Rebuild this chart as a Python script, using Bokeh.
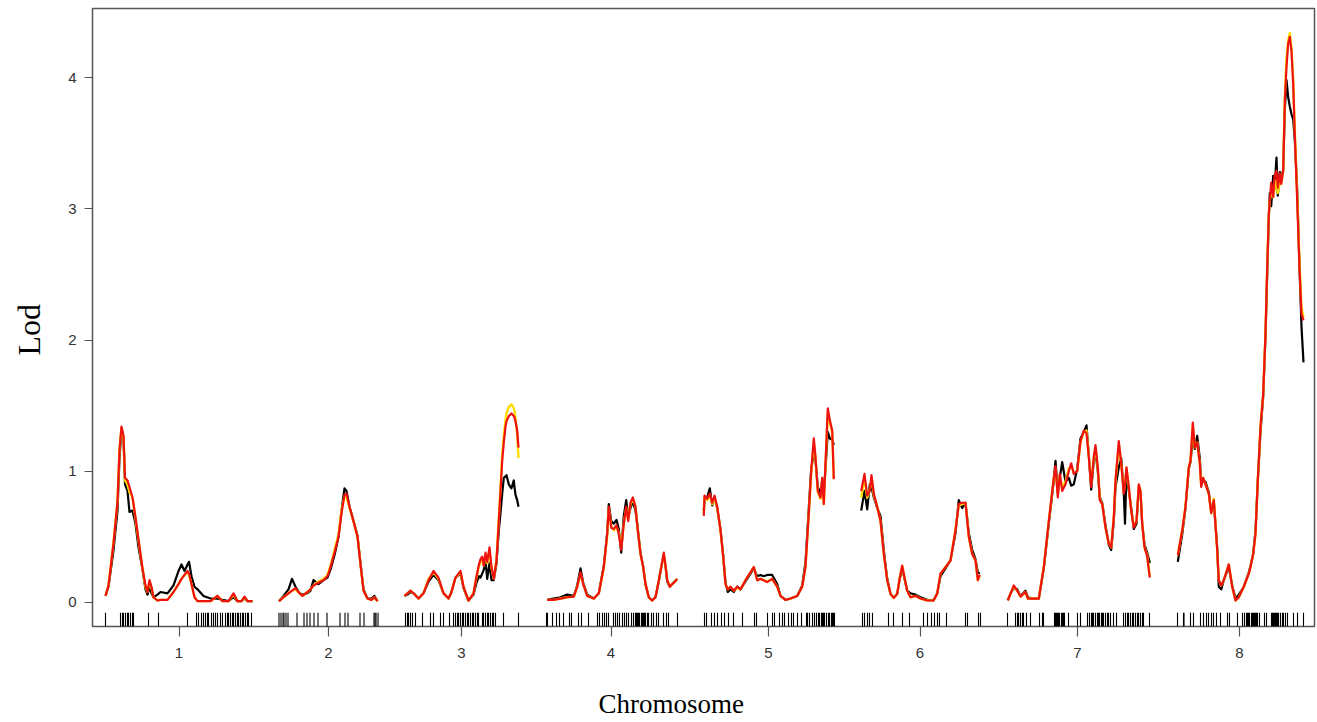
from bokeh.plotting import figure
from bokeh.models import Range1d, FixedTicker, Title, LinearAxis
from bokeh.embed import file_html
from bokeh.resources import INLINE

# ---------------- data ----------------
chrom_names = ["1", "2", "3", "4", "5", "6", "7", "8"]
chrom_lengths = [147, 99, 114, 132, 130, 120, 142, 129]   # cM
GAP = 26.5

# chromosome 1
chr1_pos = [0, 3, 8, 12, 14, 16, 18, 19.5, 22, 24, 27, 30, 33, 37, 40, 42, 44, 46, 48, 52, 55, 62, 68, 73, 76,
            79, 82, 83.5, 86, 89, 92, 98, 105, 112, 117, 123, 128, 132, 136, 139, 142, 147]
chr1_red = [0.05, 0.13, 0.45, 0.77, 1.16, 1.34, 1.27, 0.95, 0.93, 0.88, 0.80, 0.65, 0.48, 0.26, 0.13, 0.08, 0.17,
            0.12, 0.04, 0.015, 0.02, 0.02, 0.08, 0.14, 0.18, 0.21, 0.24, 0.22, 0.14, 0.04, 0.01, 0.01, 0.01, 0.05,
            0.01, 0.01, 0.07, 0.01, 0.01, 0.045, 0.01, 0.01]
chr1_black = [0.05, 0.12, 0.40, 0.70, 1.10, 1.33, 1.25, 0.90, 0.85, 0.69, 0.70, 0.60, 0.42, 0.25, 0.10, 0.06, 0.12,
              0.07, 0.04, 0.06, 0.08, 0.07, 0.13, 0.24, 0.29, 0.24, 0.29, 0.31, 0.20, 0.12, 0.10, 0.05, 0.03, 0.03,
              0.02, 0.01, 0.04, 0.01, 0.01, 0.03, 0.01, 0.01]
chr1_yellow = [0.05, 0.13, 0.46, 0.77, 1.17, 1.33, 1.26, 0.93, 0.90, 0.84, 0.80, 0.64, 0.47, 0.26, 0.12, 0.08, 0.16,
               0.11, 0.04, 0.015, 0.02, 0.02, 0.08, 0.14, 0.18, 0.21, 0.23, 0.21, 0.14, 0.04, 0.01, 0.01, 0.01, 0.05,
               0.01, 0.01, 0.06, 0.01, 0.01, 0.04, 0.01, 0.01]

# chromosome 2
chr2_pos = [0, 4.5, 9.5, 13, 16.5, 20.5, 23.5, 28.5, 31.5, 34.5, 39.5, 44.5, 48.5, 51.5, 55.5, 59.5, 62.5, 65.5,
            67.5, 70.5, 74.5, 78.5, 81.5, 84.5, 88.5, 92.5, 95.5, 98.5]
chr2_red = [0.01, 0.04, 0.07, 0.09, 0.11, 0.07, 0.05, 0.08, 0.10, 0.13, 0.15, 0.17, 0.20, 0.27, 0.38, 0.50, 0.68,
            0.82, 0.83, 0.73, 0.62, 0.50, 0.29, 0.09, 0.03, 0.02, 0.04, 0.01]
chr2_black = [0.01, 0.05, 0.10, 0.18, 0.12, 0.07, 0.06, 0.07, 0.09, 0.17, 0.14, 0.17, 0.19, 0.25, 0.36, 0.50, 0.70,
              0.87, 0.85, 0.73, 0.62, 0.51, 0.30, 0.10, 0.03, 0.03, 0.05, 0.01]
chr2_yellow = [0.01, 0.04, 0.07, 0.09, 0.10, 0.07, 0.05, 0.08, 0.10, 0.13, 0.16, 0.18, 0.21, 0.28, 0.40, 0.52, 0.70,
               0.81, 0.80, 0.72, 0.62, 0.50, 0.29, 0.09, 0.03, 0.02, 0.04, 0.01]

# chromosome 3
chr3_pos = [0, 3, 6, 9, 14, 19, 24, 29, 34, 39, 44, 47, 51, 56, 59, 64, 69, 72, 74.5, 76, 77.7, 79.3, 81, 82.7, 85,
            87, 89.3, 92, 94.3, 96, 97.7, 99.3, 101, 102, 104.3, 107, 109.3, 110, 111, 112.7, 114]
chr3_red = [0.05, 0.07, 0.09, 0.07, 0.03, 0.07, 0.17, 0.24, 0.19, 0.07, 0.03, 0.08, 0.19, 0.24, 0.12, 0.015, 0.07,
            0.20, 0.29, 0.33, 0.35, 0.28, 0.38, 0.31, 0.42, 0.27, 0.18, 0.32, 0.62, 0.85, 1.08, 1.22, 1.34, 1.38,
            1.42, 1.44, 1.42, 1.41, 1.38, 1.31, 1.18]
chr3_yellow = [0.05, 0.07, 0.09, 0.07, 0.03, 0.07, 0.18, 0.23, 0.18, 0.07, 0.03, 0.08, 0.19, 0.23, 0.12, 0.015,
               0.07, 0.19, 0.28, 0.31, 0.33, 0.28, 0.36, 0.30, 0.40, 0.26, 0.18, 0.33, 0.64, 0.88, 1.12, 1.27, 1.39,
               1.44, 1.49, 1.51, 1.48, 1.46, 1.40, 1.28, 1.10]
chr3_black = [0.05, 0.06, 0.08, 0.07, 0.03, 0.07, 0.16, 0.21, 0.17, 0.07, 0.03, 0.08, 0.19, 0.22, 0.11, 0.015, 0.06,
              0.15, 0.20, 0.19, 0.22, 0.25, 0.32, 0.18, 0.30, 0.17, 0.17, 0.30, 0.55, 0.68, 0.83, 0.95, 0.96, 0.97,
              0.90, 0.87, 0.93, 0.88, 0.82, 0.78, 0.73]

# chromosome 4
chr4_pos = [2.2, 8.5, 15.5, 22.2, 28.8, 32.2, 35.5, 38.2, 42.2, 48.8, 53.8, 58.8, 62.2, 63.8, 66.2, 68.8, 71.5, 73.8,
            76.2, 78.8, 81.2, 83.2, 85.5, 87.8, 90.5, 92.8, 95.5, 98.2, 100.5, 103.8, 107.2, 110.5, 113.8, 116.5,
            118.8, 120.5, 122.2, 124.8, 127.2, 129.5, 132.2]
chr4_red = [0.02, 0.02, 0.03, 0.04, 0.045, 0.12, 0.23, 0.14, 0.05, 0.03, 0.07, 0.27, 0.52, 0.73, 0.57, 0.56, 0.59,
            0.52, 0.40, 0.60, 0.73, 0.62, 0.76, 0.80, 0.73, 0.55, 0.37, 0.27, 0.14, 0.04, 0.015, 0.04, 0.17, 0.28,
            0.38, 0.28, 0.17, 0.12, 0.14, 0.155, 0.18]
chr4_black = [0.02, 0.03, 0.04, 0.06, 0.05, 0.13, 0.26, 0.15, 0.06, 0.03, 0.07, 0.28, 0.53, 0.75, 0.62, 0.60, 0.63,
              0.56, 0.38, 0.66, 0.78, 0.65, 0.72, 0.77, 0.70, 0.56, 0.38, 0.27, 0.14, 0.04, 0.015, 0.04, 0.16, 0.28,
              0.36, 0.28, 0.16, 0.12, 0.14, 0.16, 0.18]
chr4_yellow = [0.02, 0.02, 0.03, 0.04, 0.045, 0.12, 0.22, 0.14, 0.05, 0.03, 0.07, 0.26, 0.51, 0.72, 0.58, 0.55, 0.58,
               0.53, 0.42, 0.60, 0.72, 0.63, 0.75, 0.79, 0.73, 0.55, 0.37, 0.27, 0.14, 0.04, 0.015, 0.04, 0.17, 0.28,
               0.37, 0.28, 0.17, 0.12, 0.14, 0.155, 0.18]

# chromosome 5
chr5_pos = [0.3, 1, 3.7, 6.3, 8.7, 11, 13.7, 17, 19.7, 22, 24.3, 27, 30.3, 33.7, 37, 42, 47, 50.3, 53.7, 57, 60, 63.7,
            68.7, 73.7, 77, 82, 87, 93.7, 98.7, 102, 105.3, 107.7, 110.3, 112, 114.3, 117, 118.7, 120.3, 122, 124.3,
            126.3, 128.7, 129.7, 130.3]
chr5_red = [0.66, 0.815, 0.79, 0.83, 0.76, 0.815, 0.73, 0.55, 0.35, 0.14, 0.10, 0.12, 0.09, 0.12, 0.10, 0.17, 0.23,
            0.27, 0.17, 0.18, 0.17, 0.155, 0.18, 0.12, 0.05, 0.02, 0.03, 0.05, 0.12, 0.27, 0.68, 1.0, 1.25, 1.11,
            0.85, 0.80, 0.95, 0.75, 1.06, 1.48, 1.39, 1.31, 1.08, 0.94]
chr5_black = [0.70, 0.78, 0.80, 0.87, 0.74, 0.80, 0.72, 0.56, 0.36, 0.15, 0.08, 0.10, 0.08, 0.12, 0.10, 0.16, 0.22,
              0.26, 0.20, 0.21, 0.20, 0.21, 0.21, 0.14, 0.05, 0.02, 0.03, 0.05, 0.13, 0.31, 0.72, 1.02, 1.13, 1.08,
              0.88, 0.83, 0.93, 0.84, 1.02, 1.30, 1.25, 1.24, 1.22, 1.20]
chr5_yellow = [0.68, 0.80, 0.78, 0.82, 0.75, 0.80, 0.72, 0.55, 0.35, 0.14, 0.10, 0.12, 0.09, 0.11, 0.10, 0.17, 0.23,
               0.27, 0.17, 0.18, 0.17, 0.16, 0.18, 0.12, 0.05, 0.02, 0.03, 0.05, 0.12, 0.27, 0.67, 0.98, 1.22, 1.10,
               0.84, 0.79, 0.93, 0.75, 1.04, 1.45, 1.37, 1.30, 1.08, 0.94]

# chromosome 6
chr6_pos = [1.2, 4.5, 7.2, 9.8, 11.5, 13.8, 17.2, 20.5, 23.8, 27.2, 30.5, 33.8, 37.2, 39.8, 42.2, 44.5, 47.2, 50.5,
            55.5, 60.5, 67.2, 73.5, 77.2, 80.5, 85.5, 90.5, 95.5, 98.8, 102.2, 105.5, 108.8, 112.2, 115.5, 117.8,
            119.8]
chr6_red = [0.85, 0.98, 0.815, 0.85, 0.97, 0.83, 0.73, 0.62, 0.37, 0.17, 0.066, 0.035, 0.066, 0.19, 0.28, 0.19,
            0.09, 0.04, 0.05, 0.03, 0.015, 0.015, 0.066, 0.22, 0.27, 0.32, 0.55, 0.75, 0.76, 0.76, 0.50, 0.37, 0.32,
            0.17, 0.21]
chr6_black = [0.70, 0.85, 0.71, 0.90, 0.88, 0.80, 0.72, 0.66, 0.40, 0.18, 0.066, 0.035, 0.066, 0.18, 0.26, 0.18,
              0.09, 0.07, 0.06, 0.04, 0.02, 0.015, 0.07, 0.20, 0.26, 0.32, 0.53, 0.78, 0.72, 0.76, 0.53, 0.40, 0.33,
              0.23, 0.22]
chr6_yellow = [0.80, 0.95, 0.80, 0.86, 0.95, 0.82, 0.73, 0.62, 0.37, 0.17, 0.066, 0.035, 0.066, 0.19, 0.28, 0.19,
               0.09, 0.04, 0.05, 0.03, 0.015, 0.015, 0.066, 0.22, 0.27, 0.32, 0.56, 0.74, 0.75, 0.76, 0.50, 0.37,
               0.32, 0.17, 0.20]

# chromosome 7
chr7_pos = [1.3, 4, 7.3, 10.7, 14, 19, 21.3, 25.7, 32.3, 37.3, 42.3, 47.3, 49, 51.3, 53.3, 55.7, 59, 62.3, 64.7,
            67.3, 70.7, 74, 77.3, 80, 82.3, 84.7, 87.3, 89, 91.3, 93.3, 95.7, 99, 102.3, 104.7, 107.3, 109, 112.3,
            114.7, 117.3, 118.5, 120, 122.3, 124.7, 127.3, 130, 132.3, 134, 135.7, 138, 140.7, 143.3]
chr7_red = [0.015, 0.066, 0.13, 0.09, 0.045, 0.08, 0.03, 0.03, 0.03, 0.27, 0.62, 0.95, 1.04, 0.80, 0.98, 0.85, 0.90,
            1.0, 1.06, 0.98, 1.0, 1.23, 1.31, 1.29, 1.11, 0.88, 1.11, 1.20, 1.03, 0.78, 0.75, 0.57, 0.45, 0.42, 0.65,
            0.93, 1.23, 1.06, 0.83, 0.90, 1.03, 0.88, 0.70, 0.57, 0.62, 0.90, 0.85, 0.60, 0.42, 0.35, 0.19]
chr7_black = [0.02, 0.07, 0.11, 0.10, 0.05, 0.09, 0.04, 0.03, 0.03, 0.26, 0.60, 0.93, 1.08, 0.84, 0.95, 1.07, 0.92,
              0.95, 0.89, 0.90, 1.02, 1.25, 1.30, 1.35, 1.12, 0.86, 1.08, 1.15, 1.00, 0.80, 0.76, 0.59, 0.44, 0.40,
              0.62, 0.88, 1.03, 1.10, 0.83, 0.60, 1.00, 0.85, 0.72, 0.56, 0.60, 0.88, 0.84, 0.60, 0.44, 0.38, 0.30]
chr7_yellow = [0.015, 0.066, 0.12, 0.09, 0.045, 0.08, 0.03, 0.03, 0.03, 0.27, 0.62, 0.95, 1.02, 0.82, 0.97, 0.88,
               0.92, 1.02, 1.04, 0.99, 1.0, 1.22, 1.30, 1.31, 1.12, 0.90, 1.10, 1.18, 1.02, 0.79, 0.75, 0.57, 0.45,
               0.42, 0.65, 0.92, 1.20, 1.06, 0.84, 0.90, 1.02, 0.88, 0.70, 0.58, 0.62, 0.89, 0.85, 0.60, 0.42, 0.36,
               0.20]

# chromosome 8
chr8_pos = [2.8, 7.2, 10.5, 13.8, 15.5, 17.8, 19.8, 22.2, 24.8, 26.2, 28.2, 30.5, 33.8, 36.2, 38.8, 42.2, 43.8, 46.2,
            48.8, 53.8, 57.2, 60.5, 63.8, 68.8, 73.8, 75.5, 78.2, 80.5, 82.8, 85.5, 88.2, 90.5, 92.2, 93.8, 94.8,
            96.2, 98.2, 99.5, 101.5, 102.8, 104.8, 106.2, 108.2, 109.8, 111.5, 113.2, 114.8, 116.5, 118.2, 119.8,
            122.2, 124.5, 126.5, 128.5]
chr8_red = [0.36, 0.55, 0.73, 1.03, 1.08, 1.37, 1.18, 1.22, 1.06, 0.88, 0.95, 0.90, 0.83, 0.68, 0.78, 0.40, 0.17,
            0.13, 0.17, 0.29, 0.12, 0.015, 0.04, 0.12, 0.22, 0.27, 0.37, 0.52, 0.93, 1.34, 1.59, 2.05, 2.55, 2.96,
            3.06, 3.20, 3.09, 3.24, 3.29, 3.16, 3.27, 3.19, 3.29, 3.82, 4.08, 4.26, 4.31, 4.20, 3.95, 3.57, 3.06,
            2.55, 2.20, 2.15]
chr8_black = [0.31, 0.52, 0.72, 1.02, 1.07, 1.25, 1.17, 1.27, 1.10, 0.92, 0.93, 0.92, 0.84, 0.69, 0.77, 0.42, 0.12,
              0.10, 0.17, 0.27, 0.13, 0.03, 0.06, 0.12, 0.23, 0.28, 0.37, 0.55, 0.93, 1.30, 1.57, 2.03, 2.50, 2.93,
              3.12, 3.02, 3.25, 3.15, 3.39, 3.10, 3.28, 3.23, 3.30, 3.75, 3.98, 3.85, 3.78, 3.72, 3.68, 3.52, 3.15,
              2.55, 2.10, 1.83]
chr8_yellow = [0.36, 0.55, 0.73, 1.03, 1.08, 1.35, 1.18, 1.22, 1.06, 0.90, 0.95, 0.90, 0.83, 0.68, 0.79, 0.40, 0.17,
               0.13, 0.17, 0.29, 0.12, 0.015, 0.04, 0.12, 0.22, 0.27, 0.37, 0.52, 0.93, 1.34, 1.59, 2.05, 2.55, 2.96,
               3.06, 3.12, 3.09, 3.15, 3.22, 3.12, 3.20, 3.19, 3.29, 3.85, 4.15, 4.28, 4.34, 4.22, 3.98, 3.60, 3.10,
               2.60, 2.25, 2.17]

# marker positions (cM) for the rug
chr1_markers = [0, 15, 17, 18, 20, 22, 23, 25, 27, 28, 43, 53, 82, 91, 93, 96, 98, 100, 102, 103, 106, 108, 110, 112,
                115, 117, 120, 122, 123, 125, 127, 128, 130, 132, 133, 135, 137, 138, 140, 142, 143, 146]
chr2_markers = [0, 2, 4, 5, 7, 9, 18, 25, 28, 31, 35, 39, 48, 61, 66, 69, 81, 85, 95, 96, 97, 99]
chr3_markers = [1, 3, 4, 6, 8, 11, 18, 26, 29, 36, 39, 45, 49, 51, 53, 54, 56, 58, 59, 61, 63, 64, 66, 68, 69, 71,
                73, 74, 78, 79, 81, 83, 84, 86, 88, 89, 91, 99, 114]
chr4_markers = [1.5, 2.5, 7.5, 11.5, 14.5, 18.5, 24.5, 26.5, 33.5, 36.5, 43.5, 52.5, 54.5, 57.5, 59.5, 61.5, 63.5,
                68.5, 70.5, 72.5, 74.5, 77.5, 79.5, 81.5, 83.5, 86.5, 88.5, 90.5, 91.5, 92.5, 93.5, 94.5, 96.5,
                97.5, 98.5, 99.5, 100.5, 102.5, 103.5, 106.5, 108.5, 111.5, 113.5, 118.5, 121.5, 123.5, 132.5]
chr5_markers = [1, 3, 8, 11, 14, 18, 21, 25, 30, 39, 51, 53, 64, 69, 71, 76, 79, 81, 85, 88, 90, 94, 98, 103, 104,
                106, 109, 111, 113, 115, 116, 118, 119, 120, 121, 123, 125, 126, 128, 129, 130, 131]
chr6_markers = [2.5, 4.5, 7.5, 9.5, 12.5, 28.5, 33.5, 42.5, 49.5, 63.5, 67.5, 71.5, 74.5, 77.5, 79.5, 86.5, 105.5,
                107.5, 118.5, 120.5]
chr7_markers = [1, 9, 11, 12, 14, 16, 17, 20, 24, 33, 36, 37, 48, 49, 50, 51, 52, 53, 55, 56, 57, 58, 62, 71, 74,
                81, 83, 85, 86, 87, 89, 91, 92, 93, 95, 96, 97, 99, 101, 102, 104, 107, 110, 117, 119, 121, 122, 124,
                126, 127, 129, 131, 132, 134, 136, 137, 143]
chr8_markers = [2.5, 8.5, 9, 15.5, 18.5, 25.5, 28.5, 31.5, 33.5, 36.5, 38.5, 41.5, 45.5, 52.5, 54.5, 62.5, 67.5,
                69.5, 71.5, 72.5, 73.5, 74.5, 76.5, 77.5, 78.5, 79.5, 80.5, 81.5, 82.5, 84.5, 89.5, 91.5, 96.5, 97.5,
                98.5, 99.5, 100.5, 101.5, 102.5, 103.5, 105.5, 107.5, 108.5, 110.5, 112.5, 118.5, 122.5, 128.5]

positions = [chr1_pos, chr2_pos, chr3_pos, chr4_pos, chr5_pos, chr6_pos, chr7_pos, chr8_pos]
reds = [chr1_red, chr2_red, chr3_red, chr4_red, chr5_red, chr6_red, chr7_red, chr8_red]
blacks = [chr1_black, chr2_black, chr3_black, chr4_black, chr5_black, chr6_black, chr7_black, chr8_black]
yellows = [chr1_yellow, chr2_yellow, chr3_yellow, chr4_yellow, chr5_yellow, chr6_yellow, chr7_yellow, chr8_yellow]
markers = [chr1_markers, chr2_markers, chr3_markers, chr4_markers, chr5_markers, chr6_markers, chr7_markers,
           chr8_markers]

for i in range(8):
    assert len(positions[i]) == len(reds[i]) == len(blacks[i]) == len(yellows[i]), i

# ---------------- layout of the genome axis ----------------
offsets = []
acc = 0.0
for L in chrom_lengths:
    offsets.append(acc)
    acc += L + GAP
centers = [o + L / 2.0 for o, L in zip(offsets, chrom_lengths)]

def shift(lists):
    return [[offsets[i] + v for v in lists[i]] for i in range(8)]

xs_curves = shift(positions)
xs_markers = [x for lst in shift(markers) for x in lst]

X0, X1 = -13, 1209
Y0, Y1 = -0.183, 4.526

p = figure(width=1317, height=722, output_backend="svg", toolbar_location=None,
           x_range=Range1d(X0, X1), y_range=Range1d(Y0, Y1),
           min_border_left=92, min_border_right=3, min_border_top=8, min_border_bottom=96)
p.xgrid.visible = False
p.ygrid.visible = False
p.background_fill_color = "white"
p.border_fill_color = "white"
p.outline_line_color = "#555555"
p.outline_line_width = 1.5

# curves: black, yellow, red (red on top)
p.multi_line(xs_curves, blacks, line_color="#000000", line_width=2.2, line_join="round")
p.multi_line(xs_curves, yellows, line_color="#ffdd00", line_width=2.4, line_join="round")
p.multi_line(xs_curves, reds, line_color="#ee1111", line_width=2.2, line_join="round")

# rug of markers
p.segment(x0=xs_markers, y0=[Y0] * len(xs_markers), x1=xs_markers, y1=[-0.078] * len(xs_markers),
          line_color="#000000", line_width=1.1)

# y axis
ya = p.yaxis[0]
ya.ticker = FixedTicker(ticks=[0, 1, 2, 3, 4])
ya.axis_line_color = None
ya.major_tick_out = 8
ya.major_tick_in = 0
ya.minor_tick_out = 0
ya.minor_tick_in = 0
ya.major_tick_line_color = "#555555"
ya.major_tick_line_width = 1.2
ya.major_label_text_font = "Liberation Sans"
ya.major_label_text_font_size = "15px"
ya.major_label_text_color = "#333333"
ya.major_label_standoff = 8

# x axis
xa = p.xaxis[0]
xa.ticker = FixedTicker(ticks=centers)
xa.major_label_overrides = {c: n for c, n in zip(centers, chrom_names)}
xa.axis_line_color = None
xa.major_tick_out = 10
xa.major_tick_in = 0
xa.minor_tick_out = 0
xa.minor_tick_in = 0
xa.major_tick_line_color = "#555555"
xa.major_tick_line_width = 1.2
xa.major_label_text_font = "Liberation Sans"
xa.major_label_text_font_size = "15px"
xa.major_label_text_color = "#333333"
xa.major_label_standoff = 11

# invisible spacer axes (one hidden tick, blank label) push the axis titles outward
def spacer(size):
    ax = LinearAxis(ticker=FixedTicker(ticks=[0]), major_label_overrides={0: ""},
                    axis_line_color=None, major_tick_line_color=None, minor_tick_line_color=None,
                    major_tick_out=size, major_tick_in=0, minor_tick_out=0, minor_tick_in=0,
                    major_label_standoff=0, major_label_text_font_size="1px")
    return ax

p.add_layout(spacer(19), "left")
p.add_layout(spacer(26), "below")

ytitle = Title(text="Lod", align="left", offset=271, standoff=0, text_font="Liberation Serif",
               text_font_size="32px", text_font_style="normal", text_color="#000000")
xtitle = Title(text="Chromosome", align="left", offset=506, standoff=0, text_font="Liberation Serif",
               text_font_size="27px", text_font_style="normal", text_color="#000000")
p.add_layout(ytitle, "left")
p.add_layout(xtitle, "below")

open("out.html", "w").write(file_html(p, INLINE))
